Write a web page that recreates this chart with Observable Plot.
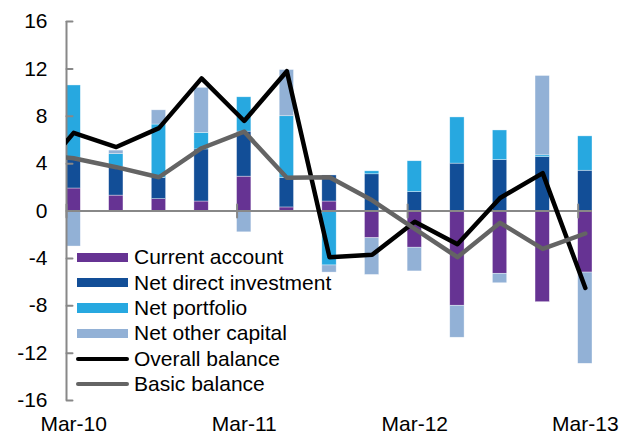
<!DOCTYPE html>
<html><head><meta charset="utf-8">
<script src="https://cdn.jsdelivr.net/npm/d3@7"></script>
<script src="https://cdn.jsdelivr.net/npm/@observablehq/plot@0.6"></script>
<style>
body{margin:0;background:#fff;}
#chart{position:relative;width:621px;height:434px;font-family:"Liberation Sans",Arial,sans-serif;}
#legend{position:absolute;left:76px;top:244.6px;font-size:21px;color:#000;}
.row{display:flex;align-items:center;height:25.4px;white-space:nowrap;}
.sw{width:51px;height:9.5px;margin-left:1px;margin-right:6px;}
.ln{width:53px;height:4.5px;border-radius:3px;margin-right:5px;}
</style></head><body><div id="chart"><div id="legend"></div></div>
<script>
const quarters = ["Mar-10","Jun-10","Sep-10","Dec-10","Mar-11","Jun-11","Sep-11","Dec-11","Mar-12","Jun-12","Sep-12","Dec-12","Mar-13"];
const xTickLabels = ["Mar-10","Mar-11","Mar-12","Mar-13"];
const yTicks = [16,12,8,4,0,-4,-8,-12,-16];
const seriesNames = ["Current account","Net direct investment","Net portfolio","Net other capital"];
const seriesColors = ["#663393","#124e97","#27a8e0","#92b1d6"];
const currentAccount = [1.9,1.3,1.0,0.8,2.9,0.3,0.8,-2.3,-3.1,-8.0,-5.3,-7.7,-5.2];
const netDirectInvestment = [2.6,2.4,1.8,4.4,3.8,2.5,2.2,3.1,1.6,4.0,4.3,4.55,3.4];
const netPortfolio = [6.1,1.1,4.5,1.4,2.9,5.2,-4.6,0.25,2.6,3.9,2.5,0.15,2.9];
const netOtherCapital = [-3.0,0.3,1.2,3.8,-1.8,3.9,-0.6,-3.1,-2.0,-2.7,-0.8,6.7,-7.7];
const lineQuarters = ["Dec-09", ...quarters];
const overallBalance = [2.3,6.6,5.4,7.0,11.2,7.6,11.8,-3.9,-3.7,-0.9,-2.8,1.1,3.2,-6.5];
const basicBalance = [4.8,4.45,3.7,2.85,5.3,6.7,2.8,2.85,0.9,-1.5,-3.9,-1.0,-3.2,-1.9];
const lineNames = ["Overall balance","Basic balance"];
const lineColors = ["#000000","#646464"];

const seriesValues = [currentAccount, netDirectInvestment, netPortfolio, netOtherCapital];
const barData = seriesValues.flatMap((vals, s) => vals.map((v, i) => ({i, series: seriesNames[s], value: v})));
const qIndex = q => quarters.indexOf(q);
const lineRows = vals => vals.map((v, k) => ({i: k - 1, quarter: lineQuarters[k], value: v}));
const overallData = lineRows(overallBalance);
const basicData = lineRows(basicBalance);
const xTickPos = xTickLabels.map(qIndex);

const hw = 0.168;
const xMin = -hw;
const yDomain = [yTicks[yTicks.length - 1], yTicks[0]];
const tickShape = {draw(ctx, l) { ctx.moveTo(0, 0); ctx.lineTo(0, -l); }};
const axisGray = "#888888";

const chart = Plot.plot({
  width: 621, height: 434,
  marginLeft: 66, marginRight: 29, marginTop: 21, marginBottom: 34,
  style: {fontFamily: "'Liberation Sans', Arial, sans-serif", fontSize: "21px", background: "white", color: "black"},
  x: {type: "linear", domain: [xMin, quarters.length - 1 + hw]},
  y: {domain: yDomain},
  color: {domain: seriesNames, range: seriesColors},
  marks: [
    Plot.rectY(barData, {x1: d => d.i - hw, x2: d => d.i + hw, y: "value", fill: "series", stroke: "white", strokeWidth: 0.6, strokeOpacity: 0.6}),
    Plot.ruleY([0], {stroke: axisGray, strokeWidth: 2}),
    Plot.ruleX([xMin], {y1: yDomain[0], y2: yDomain[1], stroke: axisGray, strokeWidth: 2}),
    Plot.vector(yTicks, {x: () => xMin, y: d => d, length: 6, rotate: 90, anchor: "start", shape: tickShape, stroke: axisGray, strokeWidth: 2}),
    Plot.vector(xTickPos, {x: i => i - hw, y: () => 0, length: 13, rotate: 0, anchor: "middle", shape: tickShape, stroke: axisGray, strokeWidth: 2}),
    Plot.line(overallData, {x: "i", y: "value", stroke: lineColors[0], strokeWidth: 4.5, strokeLinejoin: "round", strokeLinecap: "round", clip: true}),
    Plot.line(basicData, {x: "i", y: "value", stroke: lineColors[1], strokeWidth: 4.5, strokeLinejoin: "round", strokeLinecap: "round", clip: true}),
    Plot.axisY(yTicks, {tickSize: 0, tickPadding: 19, label: null, fill: "black", fontSize: 21, tickFormat: d => String(d).replace("\u2212", "-")}),
    Plot.axisX(xTickPos, {tickSize: 0, tickPadding: 16, label: null, tickFormat: i => quarters[i], fill: "black", fontSize: 21})
  ]
});
document.getElementById("chart").prepend(chart);

const legend = document.getElementById("legend");
seriesNames.forEach((n, k) => {
  legend.insertAdjacentHTML("beforeend", `<div class="row"><div class="sw" style="background:${seriesColors[k]}"></div><span>${n}</span></div>`);
});
lineNames.forEach((n, k) => {
  legend.insertAdjacentHTML("beforeend", `<div class="row"><div class="ln" style="background:${lineColors[k]}"></div><span>${n}</span></div>`);
});
</script></body></html>
